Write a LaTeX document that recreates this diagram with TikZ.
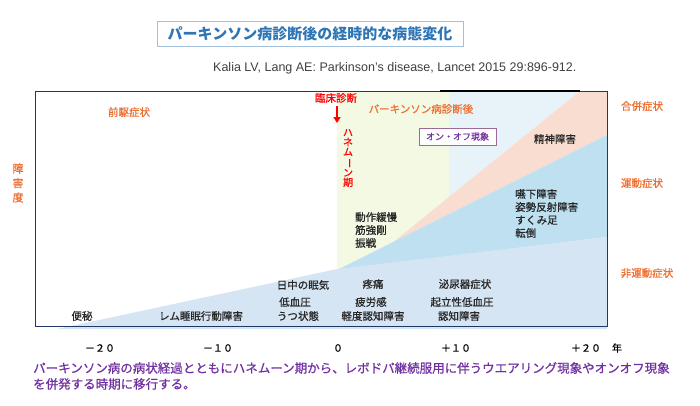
\documentclass[tikz,border=0pt]{standalone}
\usepackage{fontspec}
\setmainfont{Noto Sans CJK JP}
\newfontfamily\medfont[FakeBold=0.7]{Noto Sans CJK JP}
\newfontfamily\citefont{Liberation Sans}
\usetikzlibrary{arrows.meta}

\definecolor{framecol}{HTML}{203864}
\definecolor{greenzone}{HTML}{F3F9E3}
\definecolor{cyanzone}{HTML}{E7F3F8}
\definecolor{peachzone}{HTML}{F8DDD0}
\definecolor{motorzone}{HTML}{BEE0F0}
\definecolor{nonmotorzone}{HTML}{D6E5F3}
\definecolor{labelorange}{HTML}{EE6E30}
\definecolor{titleblue}{HTML}{2E75B6}
\definecolor{captionpurple}{HTML}{7030A0}
\definecolor{citegray}{HTML}{404040}

\newcommand{\lblfont}{\medfont\fontsize{10.5}{13}\selectfont}

\tikzset{
  symp/.style={inner sep=0pt,font=\lblfont,text=black!85},
  zone/.style={inner sep=0pt,font=\lblfont,text=labelorange},
  tick/.style={inner sep=0pt,font=\medfont\fontsize{10}{12}\selectfont,text=black},
}

\begin{document}
\begin{tikzpicture}[x=1pt,y=-1pt]
\useasboundingbox (0,0) rectangle (700,405);
% shaded areas
\fill[greenzone] (337,91) rectangle (449,326);
\fill[cyanzone] (449,91) -- (580,91) -- (449,197) -- cycle;
\fill[peachzone] (580,91) -- (607,91) -- (607,135) -- (394,241.5) -- cycle;
\fill[motorzone] (337,270) -- (607,135) -- (607,237) -- cycle;
\fill[nonmotorzone] (57,329) -- (337,269) -- (607,237) -- (607,329) -- cycle;
% frame
\draw[framecol,line width=0.8pt] (35,91) rectangle (607,326);
\draw[black,line width=1.4pt] (440,91) -- (580,91);

% title and source
\node[draw=titleblue!45,line width=0.8pt,minimum width=306pt,minimum height=25pt,inner sep=0pt,
  text=titleblue,font=\fontsize{15}{17}\selectfont\bfseries] (title) at (310,34) {パーキンソン病診断後の経時的な病態変化};
\node[anchor=west,inner sep=0pt,text=citegray,font=\citefont\fontsize{12.5}{14}\selectfont] (cite) at (213,68)
  {Kalia LV, Lang AE: Parkinson’s disease, Lancet 2015 29:896-912.};

% y axis label
\node[zone,align=center,font=\medfont\fontsize{11}{14.5}\selectfont] (grade) at (18,183) {障\\害\\度};

% zone labels
\node[zone] (prodrome) at (129,112) {前駆症状};
\node[zone] (afterdx) at (421,109) {パーキンソン病診断後};
\node[zone] (comp) at (642,106) {合併症状};
\node[zone] (motor) at (642,183) {運動症状};
\node[zone] (nonmotor) at (647,273) {非運動症状};

% diagnosis and honeymoon
\node[inner sep=0pt,text=red,font=\lblfont] (dx) at (336,98) {臨床診断};
\coordinate (dxtip) at (337,123);
\draw[red,line width=2pt,-{Triangle[width=7pt,length=6pt]}] ([yshift=-3pt]dx.south -| dxtip) -- (dxtip);
\node[inner sep=0pt,text=red,align=center,font=\medfont\fontsize{10}{9.7}\selectfont] (honey) at (348,158)
  {ハ\\ネ\\ム\\\rotatebox[origin=c]{-90}{ー}\\ン\\期};

% on-off box
\node[draw=violet!45!gray!80,fill=white,line width=0.6pt,minimum width=77pt,minimum height=17pt,inner sep=0pt,
  text=captionpurple,font=\medfont\fontsize{9}{11}\selectfont] (onoff) at (457.5,136.5) {オン・オフ現象};

% symptoms
\node[symp] (psych) at (555,139) {精神障害};
\node[symp,anchor=west,align=left] (late) at (515,213.5) {嚥下障害\\姿勢反射障害\\すくみ足\\転倒};
\node[symp,anchor=west,align=left] (early) at (355,230) {動作緩慢\\筋強剛\\振戦};
\node[symp] (sleepy) at (303,285) {日中の眠気};
\node[symp] (lowbp) at (295,302) {低血圧};
\node[symp] (depr) at (298,316) {うつ状態};
\node[symp] (constip) at (82,316) {便秘};
\node[symp] (rbd) at (201,316) {レム睡眠行動障害};
\node[symp] (pain) at (373,284) {疼痛};
\node[symp] (fatigue) at (371,302) {疲労感};
\node[symp] (mci) at (373,316) {軽度認知障害};
\node[symp] (urin) at (465,284) {泌尿器症状};
\node[symp] (ortho) at (462,302) {起立性低血圧};
\node[symp] (dement) at (459,316) {認知障害};

% time axis
\node[tick] (tm20) at (100,348) {－２０};
\node[tick] (tm10) at (218,348) {－１０};
\node[tick] (t0) at (338,348) {０};
\node[tick] (tp10) at (456,348) {＋１０};
\node[tick] (tp20) at (586,348) {＋２０};
\node[tick] (year) at (617,348) {年};

% caption
\node[anchor=west,inner sep=0pt,text=captionpurple,font=\medfont\fontsize{12.5}{14}\selectfont] (cap1) at (33,368)
  {パーキンソン病の病状経過とともにハネムーン期から、レボドパ継続服用に伴うウエアリング現象やオンオフ現象};
\node[anchor=west,inner sep=0pt,text=captionpurple,font=\medfont\fontsize{12.5}{14}\selectfont] (cap2) at (33,384)
  {を併発する時期に移行する。};
\end{tikzpicture}
\end{document}
